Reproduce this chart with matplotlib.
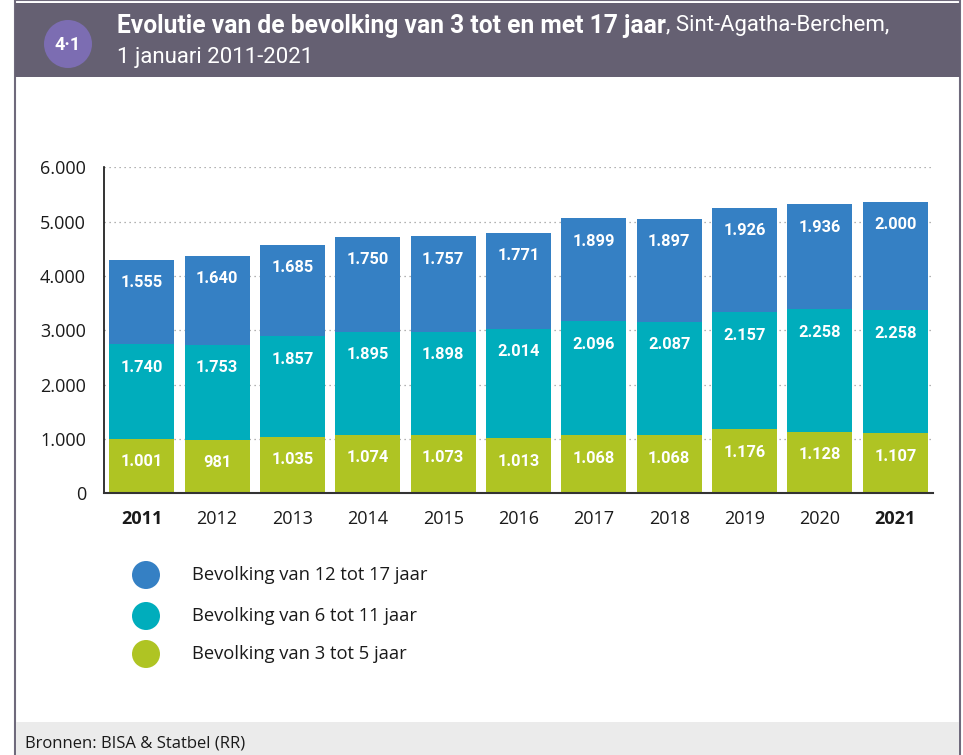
import matplotlib
matplotlib.use("Agg")
import matplotlib.pyplot as plt
from matplotlib.patches import Rectangle, Ellipse

years = ["2011", "2012", "2013", "2014", "2015", "2016", "2017", "2018", "2019", "2020", "2021"]
age_3_5 = [1001, 981, 1035, 1074, 1073, 1013, 1068, 1068, 1176, 1128, 1107]
age_6_11 = [1740, 1753, 1857, 1895, 1898, 2014, 2096, 2087, 2157, 2258, 2258]
age_12_17 = [1555, 1640, 1685, 1750, 1757, 1771, 1899, 1897, 1926, 1936, 2000]
series_names = ["Bevolking van 12 tot 17 jaar", "Bevolking van 6 tot 11 jaar", "Bevolking van 3 tot 5 jaar"]
yticks = [0, 1000, 2000, 3000, 4000, 5000, 6000]
ytick_labels = ["0", "1.000", "2.000", "3.000", "4.000", "5.000", "6.000"]

C_BLUE = "#3580c4"
C_TEAL = "#00adbc"
C_GREEN = "#afc423"
HEADER = "#656072"
CIRCLE = "#7c6db2"

NARROW = "Roboto"
REG = "Open Sans"

W, H = 963, 755
fig = plt.figure(figsize=(W / 100, H / 100), dpi=100)

def fx(x):
    return x / W

def fy(y):
    return 1 - y / H

# frame / header / footer
fig.patches.append(Rectangle((fx(15), fy(755)), fx(945), 755 / H, transform=fig.transFigure,
                             facecolor="white", edgecolor="#6f6a7c", linewidth=1.5, zorder=0))
fig.patches.append(Rectangle((fx(15), fy(77)), fx(945), 74 / H, transform=fig.transFigure,
                             facecolor=HEADER, edgecolor="none", zorder=1))
fig.patches.append(Rectangle((fx(16), fy(755)), fx(943), 33 / H, transform=fig.transFigure,
                             facecolor="#ebebeb", edgecolor="none", zorder=1))
fig.patches.append(Ellipse((fx(68), fy(44)), 48 / W, 48 / H, transform=fig.transFigure,
                           facecolor=CIRCLE, edgecolor="none", zorder=2))
fig.text(fx(68), fy(45), "4·1", color="white", fontsize=13, fontweight="bold",
         family=[NARROW, "DejaVu Sans"], ha="center", va="center", zorder=3)

t1 = fig.text(fx(117), fy(26), "Evolutie van de bevolking van 3 tot en met 17 jaar", color="white",
              fontsize=17.7, fontweight="bold", family=[NARROW, "DejaVu Sans"], ha="left", va="center", zorder=3)
fig.canvas.draw()
bb = t1.get_window_extent()
fig.text(bb.x1 / W, fy(26), ", Sint-Agatha-Berchem,", color="white", fontsize=16,
         family=[NARROW, "DejaVu Sans"], ha="left", va="center", zorder=3)
fig.text(fx(117), fy(58), "1 januari 2011-2021", color="white", fontsize=16,
         family=[NARROW, "DejaVu Sans"], ha="left", va="center", zorder=3)

fig.text(fx(25), fy(744), "Bronnen: BISA & Statbel (RR)", color="#1a1a1a", fontsize=12,
         family=[REG, "DejaVu Sans"], ha="left", va="center", zorder=3)

# axes
ax = fig.add_axes([fx(104), fy(493.3), fx(933) - fx(104), (493.3 - 167.3) / H])
ax.set_zorder(2)
ax.patch.set_alpha(0)
x = list(range(len(years)))
bw = 0.862
ax.bar(x, age_3_5, bw, color=C_GREEN, zorder=3)
bottom2 = age_3_5
ax.bar(x, age_6_11, bw, bottom=bottom2, color=C_TEAL, zorder=3)
bottom3 = [a + b for a, b in zip(age_3_5, age_6_11)]
ax.bar(x, age_12_17, bw, bottom=bottom3, color=C_BLUE, zorder=3)

def fmt(v):
    return f"{v:,}".replace(",", ".")

for i in x:
    for val, bot in ((age_3_5[i], 0), (age_6_11[i], bottom2[i]), (age_12_17[i], bottom3[i])):
        ax.annotate(fmt(val), (i, bot + val), xytext=(0, -16.5), textcoords="offset points",
                    ha="center", va="center", color="white", fontsize=11.8, fontweight="bold",
                    family=[NARROW, "DejaVu Sans"], zorder=4)

ax.set_xlim(-0.5, 10.5)
ax.set_ylim(0, 6000)
ax.set_yticks(yticks)
ax.set_yticklabels(ytick_labels, family=[REG, "DejaVu Sans"], fontsize=13, color="#1a1a1a")
ax.set_xticks(x)
ax.set_xticklabels(years, family=[REG, "DejaVu Sans"], fontsize=13, color="#1a1a1a")
for lbl in ax.get_xticklabels():
    if lbl.get_text() in ("2011", "2021"):
        lbl.set_fontweight("bold")
ax.tick_params(axis="both", length=0)
ax.tick_params(axis="y", pad=13)
ax.tick_params(axis="x", pad=12)
for yv in yticks[1:]:
    ax.axhline(yv, color="#999999", linestyle=(0, (1, 3)), linewidth=0.9, zorder=1)
for s in ("top", "right"):
    ax.spines[s].set_visible(False)
ax.spines["left"].set_color("#111111")
ax.spines["left"].set_linewidth(1.2)
ax.spines["bottom"].set_color("#333333")
ax.spines["bottom"].set_linewidth(1.5)
ax.spines["bottom"].set_zorder(5)

# legend (manual, in figure pixel positions)
leg_colors = [C_BLUE, C_TEAL, C_GREEN]
leg_y = [575, 616, 654]
for c, yy, name in zip(leg_colors, leg_y, series_names):
    fig.patches.append(Ellipse((fx(146), fy(yy)), 28 / W, 28 / H, transform=fig.transFigure,
                               facecolor=c, edgecolor="none", zorder=2))
    fig.text(fx(192), fy(yy), name, fontsize=13.2, family=[REG, "DejaVu Sans"], color="#1a1a1a",
             ha="left", va="center", zorder=3)

fig.savefig("out.png", dpi=100)
